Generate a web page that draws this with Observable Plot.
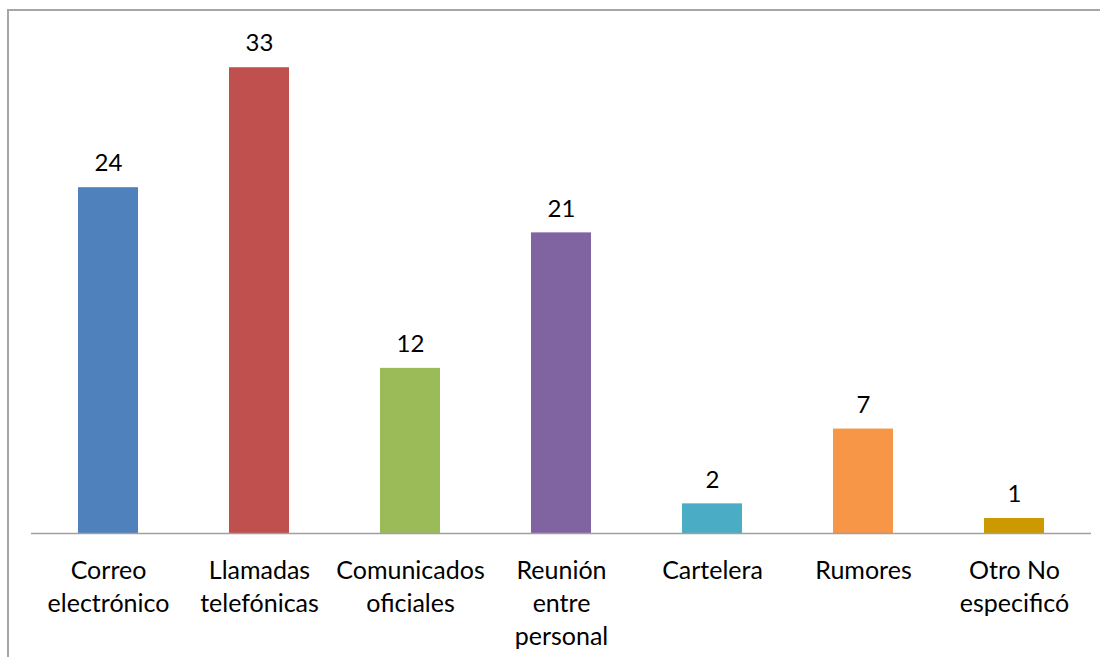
<!DOCTYPE html>
<html>
<head>
<meta charset="utf-8">
<script src="https://cdn.jsdelivr.net/npm/d3@7"></script>
<script src="https://cdn.jsdelivr.net/npm/@observablehq/plot@0.6"></script>
<style>
  html, body { margin: 0; padding: 0; background: #fff; }
  #chart svg { display: block; }
</style>
</head>
<body>
<div id="chart"></div>
<script>
const categories = ["Correo\nelectrónico", "Llamadas\ntelefónicas", "Comunicados\noficiales", "Reunión\nentre\npersonal", "Cartelera", "Rumores", "Otro No\nespecificó"];
const values = [24.5, 33, 11.7, 21.3, 2.1, 7.4, 1.06];
const valueLabels = ["24", "33", "12", "21", "2", "7", "1"];
const colors = ["#4F81BD", "#C0504D", "#9BBB59", "#8064A2", "#4BACC6", "#F79646", "#CC9A00"];

const data = categories.map((c, i) => ({cat: c, value: values[i], label: valueLabels[i], color: colors[i]}));

const font = "Lato, 'Open Sans', sans-serif";

const plot = Plot.plot({
  width: 1100,
  height: 657,
  marginLeft: 31,
  marginRight: 9,
  marginTop: 39,
  marginBottom: 124,
  style: {fontFamily: font, fontSize: "23px", color: "#000", background: "#fff"},
  x: {domain: categories, paddingInner: 0.6, paddingOuter: 0.3, axis: null},
  y: {domain: [0, 35], axis: null},
  marks: [
    Plot.barY(data, {x: "cat", y: "value", fill: "color"}),
    Plot.ruleY([0], {stroke: "#a0a0a0", strokeWidth: 1.5}),
    Plot.text(data, {x: "cat", y: "value", text: "label", dy: -24, fill: "#000", fontSize: 24}),
    Plot.text(data, {x: "cat", y: 0, text: "cat", lineAnchor: "top", dy: 22, lineHeight: 1.32, fill: "#000", fontSize: 25})
  ]
});

d3.select(plot).insert("rect", ":first-child")
  .attr("x", 8).attr("y", 10).attr("width", 3000).attr("height", 3000)
  .attr("fill", "none").attr("stroke", "#a6a6a6").attr("stroke-width", 2);

document.getElementById("chart").appendChild(plot);
</script>
</body>
</html>
